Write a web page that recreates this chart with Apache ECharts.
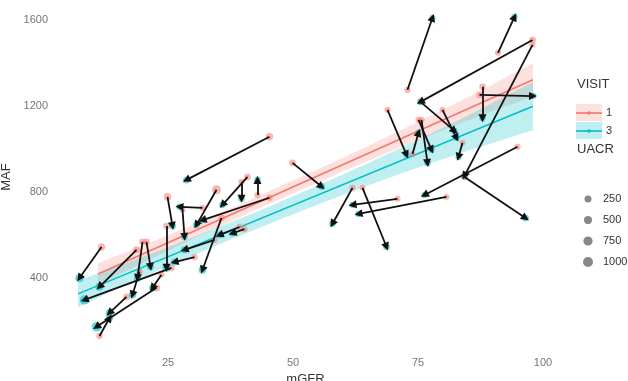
<!DOCTYPE html>
<html>
<head>
<meta charset="utf-8">
<script src="https://cdn.jsdelivr.net/npm/echarts@6/dist/echarts.min.js"></script>
<style>
html,body{margin:0;padding:0;background:#fff;}
#chart{width:628px;height:381px;}
</style>
</head>
<body>
<div id="chart"></div>
<script>
// Visit 1 -> Visit 3 per subject (arrows)
const mgfrV1 = [72.9,91.0,97.9,75.5,79.9,83.9,87.9,87.3,97.9,94.9,84.3,80.7,70.9,61.9,63.9,68.9,73.9,75.1,75.7,49.9,45.3,40.9,39.7,42.9,45.3,34.7,35.7,39.3,24.9,31.9,27.9,34.3,24.7,20.7,19.9,11.7,18.7,25.7,22.7,16.7,11.3,19.3,23.7,30.3,40.3];
const mafV1  = [1276,1448,1508,1220,1183,1030,1290,1252,1485,1011,871,778,769,820,820,1183,978,1136,1136,936,1058,871,848,787,774,811,680,638,778,727,718,578,643,569,569,545,532,448,355,313,131,430,416,498,628];
const mgfrV3 = [77.9,94.3,75.5,82.3,82.7,83.1,87.9,98.0,84.3,76.3,96.5,63.1,61.9,57.9,68.7,72.7,75.1,77.7,76.9,55.7,28.7,35.9,39.7,42.9,31.9,30.7,31.9,35.3,25.9,27.3,28.3,28.3,24.7,21.5,18.9,7.3,11.3,8.3,10.7,13.3,13.3,17.9,21.9,26.3,37.9];
const mafV3  = [1611,1615,1220,1085,1052,964,1144,1247,876,787,680,699,741,653,546,974,1076,997,936,826,857,741,769,857,670,648,439,601,643,732,592,532,448,453,401,401,360,299,174,239,215,323,355,475,609];
const uacrV1 = [150,120,200,180,100,90,160,140,110,130,170,100,120,150,110,130,100,120,140,200,300,200,150,120,180,700,200,150,350,150,120,140,160,200,180,300,250,200,300,200,150,180,120,150,130];
const uacrV3 = [120,150,200,160,140,130,150,160,300,140,200,150,140,180,200,180,160,150,190,250,250,200,180,200,200,250,400,200,250,160,200,300,500,250,300,600,450,800,900,350,300,350,250,250,200];

// Linear fits
const fitV1X = [11, 98];
const fitV1Y = [419, 1323];
const fitV3X = [7, 98];
const fitV3Y = [327, 1200];

// Confidence ribbons
const bandV1X  = [11,20,30,40,50,60,70,80,90,98];
const bandV1Lo = [369,472,583,690,794,896,994,1089,1178,1245];
const bandV1Hi = [469,552,649,750,854,960,1070,1183,1302,1401];
const bandV3X  = [7,15,25,35,45,55,65,75,85,98];
const bandV3Lo = [265,352,456,556,651,743,831,915,993,1088];
const bandV3Hi = [389,456,544,636,731,831,935,1043,1157,1312];

const xTicks = [25,50,75,100];
const yTicks = [400,800,1200,1600];
const legendSizes = [250,500,750,1000];

const RED = '#F8766D', CYAN = '#00BFC4';
const FONT = '"Liberation Sans", Arial, sans-serif';
const sizeOf = u => 4 + 6*Math.sqrt(u/1000);

function ribbonSeries(xs, lo, hi, color, opacity){
  return {
    type:'custom', coordinateSystem:'cartesian2d', silent:true, z:1,
    data: xs.map((x,i)=>[x, lo[i], hi[i]]),
    renderItem: function(params, api){
      if (params.dataIndex !== 0) return null;
      const pts = [];
      for (let i=0;i<xs.length;i++) pts.push(api.coord([xs[i], hi[i]]));
      for (let i=xs.length-1;i>=0;i--) pts.push(api.coord([xs[i], lo[i]]));
      return {type:'polygon', shape:{points:pts}, style:{fill:color, opacity:opacity}};
    }
  };
}

const chart = echarts.init(document.getElementById('chart'), null, {renderer:'canvas'});

const arrows = mgfrV1.map((x,i)=>({coords:[[x, mafV1[i]],[mgfrV3[i], mafV3[i]]]}));

const option = {
  animation:false,
  backgroundColor:'#fff',
  grid:{left:53, right:70, top:1, bottom:28, containLabel:false, outerBoundsMode:'none'},
  xAxis:{
    type:'value', min:2, max:103,
    name:'mGFR', nameLocation:'middle', nameGap:16,
    nameTextStyle:{fontFamily:FONT, fontSize:13, color:'#333', verticalAlign:'top'},
    axisLine:{show:false}, axisTick:{show:false}, splitLine:{show:false},
    axisLabel:{customValues:xTicks, formatter: v => String(v), fontFamily:FONT, fontSize:11, color:'#7d7373', margin:4}
  },
  yAxis:{
    type:'value', min:52, max:1689,
    name:'MAF', nameLocation:'middle', nameGap:34, nameRotate:90,
    nameTextStyle:{fontFamily:FONT, fontSize:13, color:'#333', verticalAlign:'bottom'},
    axisLine:{show:false}, axisTick:{show:false}, splitLine:{show:false},
    axisLabel:{customValues:yTicks, formatter: v => String(v), fontFamily:FONT, fontSize:11, color:'#7d7373', margin:5}
  },
  series:[
    ribbonSeries(bandV1X, bandV1Lo, bandV1Hi, RED, 0.22),
    ribbonSeries(bandV3X, bandV3Lo, bandV3Hi, CYAN, 0.25),
    {type:'line', z:2, silent:true, showSymbol:false, symbol:'none',
     data: fitV1X.map((x,i)=>[x, fitV1Y[i]]), lineStyle:{color:RED, width:1.6}},
    {type:'line', z:2, silent:true, showSymbol:false, symbol:'none',
     data: fitV3X.map((x,i)=>[x, fitV3Y[i]]), lineStyle:{color:CYAN, width:1.6}},
    {type:'scatter', z:3, silent:true,
     data: mgfrV1.map((x,i)=>[x, mafV1[i], uacrV1[i]]),
     symbolSize: v => sizeOf(v[2]),
     itemStyle:{color:RED, opacity:0.55}},
    {type:'scatter', z:3, silent:true,
     data: mgfrV3.map((x,i)=>[x, mafV3[i], uacrV3[i]]),
     symbolSize: v => sizeOf(v[2]),
     itemStyle:{color:CYAN, opacity:0.6}},
    {type:'lines', coordinateSystem:'cartesian2d', z:4, silent:true,
     data: arrows,
     symbol:['none','triangle'], symbolSize:[0,8],
     lineStyle:{color:'#111', width:1.8, opacity:1, curveness:0}}
  ],
  graphic:[
    {type:'text', left:577, top:78, style:{text:'VISIT', font:'13px '+FONT, fill:'#333'}},
    {type:'rect', shape:{x:576, y:104, width:26, height:17}, style:{fill:RED, opacity:0.22}},
    {type:'line', shape:{x1:576, y1:113, x2:602, y2:113}, style:{stroke:RED, lineWidth:1.6}},
    {type:'circle', shape:{cx:589, cy:113, r:1.8}, style:{fill:RED}},
    {type:'text', left:606, top:107, style:{text:'1', font:'11px '+FONT, fill:'#333'}},
    {type:'rect', shape:{x:576, y:122, width:26, height:17}, style:{fill:CYAN, opacity:0.25}},
    {type:'line', shape:{x1:576, y1:131, x2:602, y2:131}, style:{stroke:CYAN, lineWidth:1.6}},
    {type:'circle', shape:{cx:589, cy:131, r:1.8}, style:{fill:CYAN}},
    {type:'text', left:606, top:125, style:{text:'3', font:'11px '+FONT, fill:'#333'}},
    {type:'text', left:577, top:143, style:{text:'UACR', font:'13px '+FONT, fill:'#333'}}
  ].concat(legendSizes.flatMap((u,i)=>{
    const cy = 199 + i*21;
    return [
      {type:'circle', shape:{cx:588, cy:cy, r:sizeOf(u)/2}, style:{fill:'#555', opacity:0.7}},
      {type:'text', left:603, top:cy-6, style:{text:String(u), font:'11px '+FONT, fill:'#333'}}
    ];
  }))
};
chart.setOption(option);
</script>
</body>
</html>
